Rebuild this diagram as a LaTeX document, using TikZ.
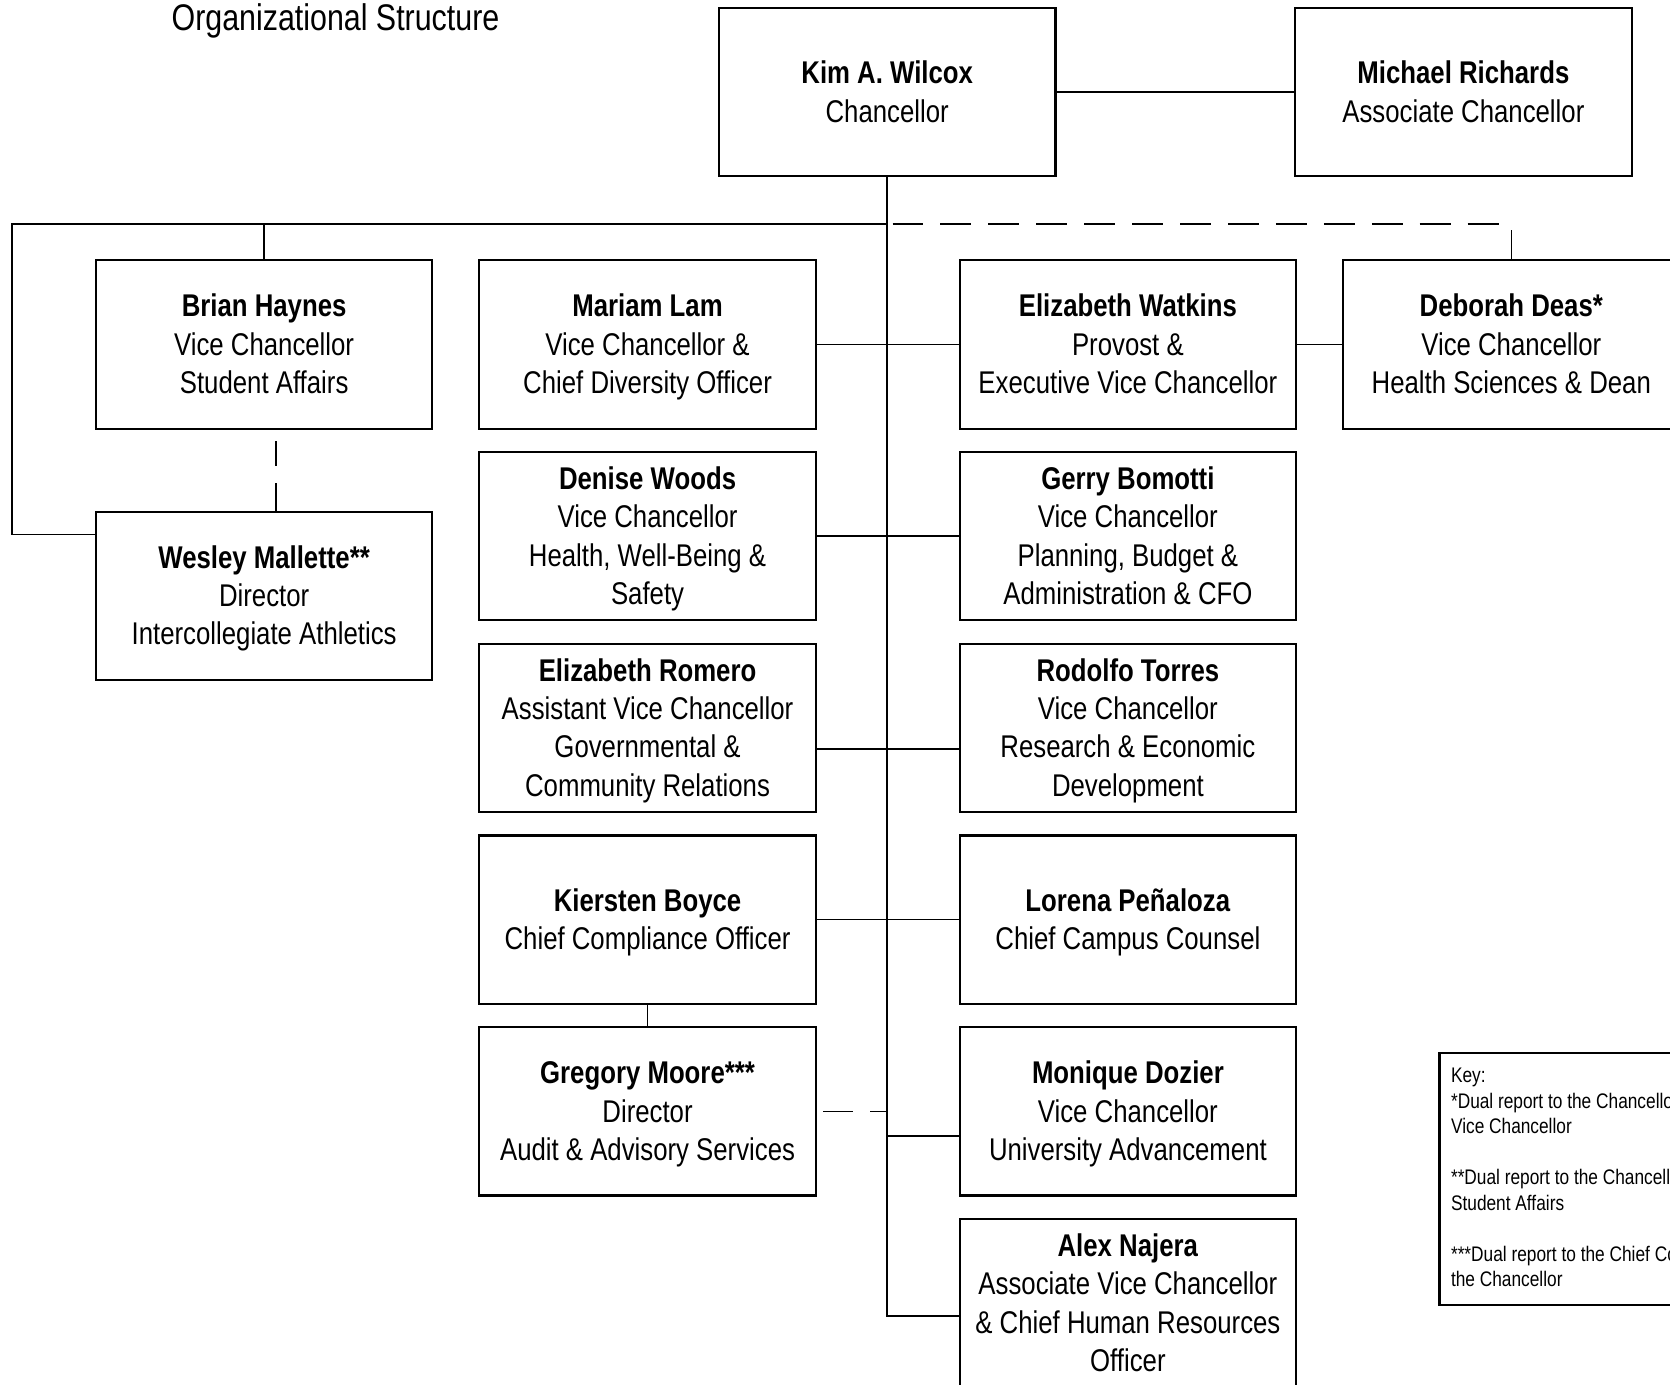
\documentclass[tikz,border=0pt]{standalone}
\usepackage{fontspec}
\setmainfont{Liberation Sans}[FakeStretch=0.82]
\usetikzlibrary{calc}
\newcommand{\pname}[1]{\rule{0pt}{13.5pt}\textbf{#1}}
\begin{document}
\begin{tikzpicture}[x=0.5pt,y=-0.5pt,
  orgbox/.style={draw, line width=1pt, minimum width=158pt, minimum height=79pt, inner sep=0pt, align=center,
    font=\fontsize{14.75pt}{18pt}\selectfont,
    execute at end node={\rule[-3.4pt]{0pt}{3.4pt}}},
  conn/.style={line width=0.75pt},
  dsh/.style={conn, dash pattern=on 14.5pt off 8pt},
  keytext/.style={anchor=north west, inner sep=0pt, align=left, font=\fontsize{9.9pt}{11.95pt}\selectfont},
  titletext/.style={anchor=base, inner sep=0pt, font=\fontsize{17.4pt}{20pt}\selectfont}]
\useasboundingbox (0,0) rectangle (1568,1299.5);
\clip (0,0) rectangle (1568,1299.5);

% title
\node[titletext] (title) at (315,29) {Organizational Structure};

% top level
\node[orgbox] (kim) at (833,86.5) {\pname{Kim A. Wilcox}\\Chancellor};
\node[orgbox] (mich) at (1374,86.5) {\pname{Michael Richards}\\Associate Chancellor};

% left column
\node[orgbox] (brian) at (248,323.5) {\pname{Brian Haynes}\\Vice Chancellor\\Student Affairs};
\node[orgbox] (wes) at (248,559.5) {\pname{Wesley Mallette**}\\Director\\Intercollegiate Athletics};

% middle-left column
\node[orgbox] (mariam) at (608,323.5) {\pname{Mariam Lam}\\Vice Chancellor \&\\Chief Diversity Officer};
\node[orgbox] (denise) at (608,503.5) {\pname{Denise Woods}\\Vice Chancellor\\Health, Well-Being \&\\Safety};
\node[orgbox] (romero) at (608,683.5) {\pname{Elizabeth Romero}\\Assistant Vice Chancellor\\Governmental \&\\Community Relations};
\node[orgbox] (kiersten) at (608,863.5) {\pname{Kiersten Boyce}\\Chief Compliance Officer};
\node[orgbox] (greg) at (608,1043.5) {\pname{Gregory Moore***}\\Director\\Audit \& Advisory Services};

% middle-right column
\node[orgbox] (watkins) at (1059,323.5) {\pname{Elizabeth Watkins}\\Provost \&\\Executive Vice Chancellor};
\node[orgbox] (gerry) at (1059,503.5) {\pname{Gerry Bomotti}\\Vice Chancellor\\Planning, Budget \&\\Administration \& CFO};
\node[orgbox] (torres) at (1059,683.5) {\pname{Rodolfo Torres}\\Vice Chancellor\\Research \& Economic\\Development};
\node[orgbox] (lorena) at (1059,863.5) {\pname{Lorena Peñaloza}\\Chief Campus Counsel};
\node[orgbox] (monique) at (1059,1043.5) {\pname{Monique Dozier}\\Vice Chancellor\\University Advancement};
\node[orgbox] (alex) at (1059,1223.5) {\pname{Alex Najera}\\Associate Vice Chancellor\\\& Chief Human Resources\\Officer};

% right column
\node[orgbox] (deb) at (1419,323.5) {\pname{Deborah Deas*}\\Vice Chancellor\\Health Sciences \& Dean};

% key
\node[draw, line width=1pt, anchor=north west, minimum width=170pt, minimum height=118.5pt, inner sep=0pt] (key) at (1350.5,987.5) {};
\node[keytext] (keytxt) at (1362,1002.7) {Key:\\*Dual report to the Chancellor\\Vice Chancellor\\[11.95pt]**Dual report to the Chancellor\\Student Affairs\\[11.95pt]***Dual report to the Chief Compliance\\the Chancellor};

% connectors
\coordinate (j) at (833,210.5);
\coordinate (lft) at (11,210.5);
\draw[conn] (kim.east) -- (mich.west);
\draw[conn] (kim.south) |- ($(alex.west)+(0,12)$);
\draw[conn] (j) -- (lft) |- ($(wes.west)+(0,-57.5)$);
\draw[conn] (j -| brian.north) -- (brian.north);
\draw[dsh] ($(j)+(5,0)$) -- ($(j -| deb.north)+(-10,0)$);
\draw[conn] (deb.north) -- ++(0,-28);
\draw[conn, dash pattern=on 11.75pt off 7.85pt on 20pt off 0pt] ($(brian.south)+(11,11)$) -- ($(wes.north)+(11,0)$);
\draw[conn] (mariam.east) -- (watkins.west);
\draw[conn] (watkins.east) -- (deb.west);
\draw[conn] (denise.east) -- (gerry.west);
\draw[conn] ($(romero.east)+(0,20)$) -- ($(torres.west)+(0,20)$);
\draw[conn] (kiersten.east) -- (lorena.west);
\draw[conn] (kiersten.south) -- (greg.north);
\draw[conn, dash pattern=on 14pt off 8pt] ($(greg.east)+(6,0)$) -- (greg.east -| j);
\coordinate (mc) at ($(monique.west)+(0,23)$);
\draw[conn] (mc) -- (mc -| j);
\end{tikzpicture}
\end{document}
